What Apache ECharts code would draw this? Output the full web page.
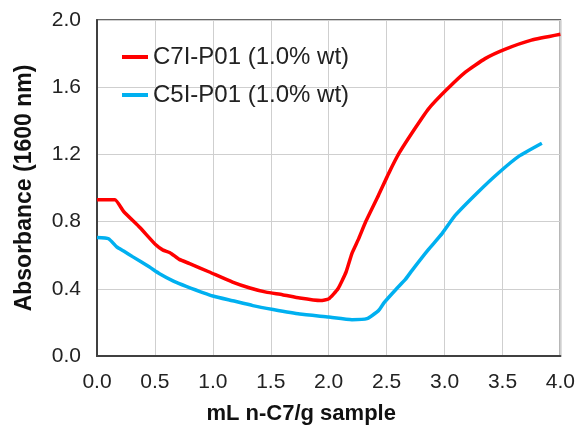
<!DOCTYPE html>
<html>
<head>
<meta charset="utf-8">
<script src="https://cdn.jsdelivr.net/npm/echarts@6/dist/echarts.min.js"></script>
<style>
  html, body { margin: 0; padding: 0; background: #fff; }
  #chart { width: 578px; height: 430px; }
</style>
</head>
<body>
<div id="chart"></div>
<script>
// C7I-P01 (1.0% wt)
var redX = [0, 0.155, 0.23, 0.37, 0.51, 0.57, 0.63, 0.71, 0.8, 0.97, 1.17, 1.32, 1.46, 1.6, 1.75, 1.93, 2.0, 2.08, 2.15, 2.2, 2.26, 2.32, 2.43, 2.52, 2.61, 2.75, 2.86, 3.01, 3.18, 3.35, 3.52, 3.75, 4.0];
var redY = [0.93, 0.93, 0.86, 0.765, 0.66, 0.63, 0.615, 0.575, 0.55, 0.5, 0.44, 0.405, 0.38, 0.365, 0.345, 0.33, 0.34, 0.4, 0.5, 0.61, 0.7, 0.8, 0.957, 1.09, 1.21, 1.36, 1.47, 1.58, 1.69, 1.77, 1.825, 1.88, 1.915];
// C5I-P01 (1.0% wt)
var blueX = [0, 0.1, 0.17, 0.23, 0.31, 0.45, 0.54, 0.66, 0.77, 1.0, 1.17, 1.345, 1.52, 1.75, 2.0, 2.2, 2.33, 2.43, 2.48, 2.58, 2.66, 2.72, 2.86, 2.98, 3.09, 3.29, 3.47, 3.64, 3.84];
var blueY = [0.705, 0.698, 0.65, 0.625, 0.59, 0.531, 0.49, 0.446, 0.415, 0.357, 0.329, 0.3, 0.277, 0.25, 0.232, 0.216, 0.222, 0.27, 0.319, 0.396, 0.454, 0.51, 0.633, 0.73, 0.835, 0.976, 1.092, 1.188, 1.266];

var seriesNames = ['C7I-P01 (1.0% wt)', 'C5I-P01 (1.0% wt)'];

function pairs(xs, ys) {
  return xs.map(function (x, i) { return [x, ys[i]]; });
}

(function () {
  var chart = echarts.init(document.getElementById('chart'));
  var font = '"Liberation Sans", Arial, sans-serif';
  var option = {
    animation: false,
    textStyle: { fontFamily: font },
    grid: {
      left: 97, right: 16, top: 20, bottom: 65,
      show: true,
      borderColor: '#333',
      borderWidth: 1.5
    },
    legend: {
      orient: 'vertical',
      left: 122,
      top: 45,
      padding: 0,
      icon: 'rect',
      itemWidth: 26,
      itemHeight: 4,
      itemGap: 14,
      textStyle: { fontSize: 24, color: '#222', fontFamily: font },
      data: seriesNames
    },
    xAxis: {
      type: 'value',
      min: 0,
      max: 4,
      interval: 0.5,
      name: 'mL n-C7/g sample',
      nameLocation: 'middle',
      nameGap: 47,
      nameTextStyle: { fontSize: 22, fontWeight: 'bold', color: '#111', padding: [0, 55, 0, 0] },
      axisLine: { lineStyle: { color: '#404040', width: 2 } },
      axisTick: { show: false },
      axisLabel: {
        fontSize: 21, color: '#222', margin: 16,
        formatter: function (v) { return v.toFixed(1); }
      },
      splitLine: { lineStyle: { color: '#cfcfcf', width: 1 } }
    },
    yAxis: {
      type: 'value',
      min: 0,
      max: 2,
      interval: 0.4,
      name: 'Absorbance (1600 nm)',
      nameLocation: 'middle',
      nameGap: 61,
      nameTextStyle: { fontSize: 23, fontWeight: 'bold', color: '#111' },
      axisLine: { show: true, lineStyle: { color: '#404040', width: 2 } },
      axisTick: { show: false },
      axisLabel: {
        fontSize: 21, color: '#222', margin: 16,
        formatter: function (v) { return v.toFixed(1); }
      },
      splitLine: { lineStyle: { color: '#cfcfcf', width: 1 } }
    },
    series: [
      {
        name: seriesNames[0],
        type: 'line',
        symbol: 'none',
        smooth: 0.15,
        color: '#ff0000',
        lineStyle: { width: 3.5 },
        data: pairs(redX, redY)
      },
      {
        name: seriesNames[1],
        type: 'line',
        symbol: 'none',
        smooth: 0.15,
        color: '#00b0f0',
        lineStyle: { width: 3.5 },
        data: pairs(blueX, blueY)
      }
    ]
  };
  chart.setOption(option);
})();
</script>
</body>
</html>
